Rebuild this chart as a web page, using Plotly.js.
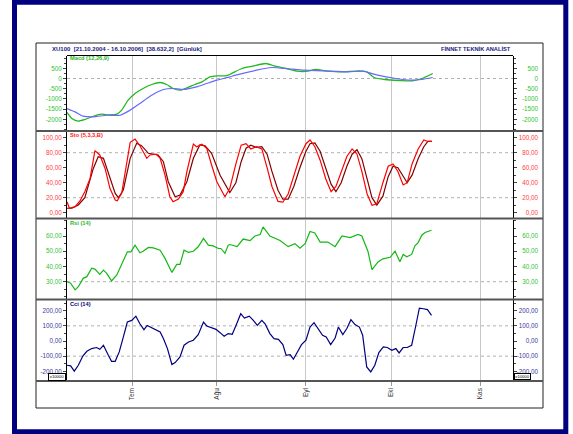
<!DOCTYPE html>
<html>
<head>
<meta charset="utf-8">
<script src="https://cdn.plot.ly/plotly-3.0.1.min.js"></script>
<style>html,body{margin:0;padding:0;background:#fff}#chart{width:573px;height:434px}</style>
</head>
<body>
<div id="chart"></div>
<script>
// ---------- DATA (x = trading-day index from the left edge of the plot) ----------
const monthIdx   = [16.05, 37.0, 58.9, 80.0, 102.0];
const monthNames = ['Tem', 'Ağu', 'Eyl', 'Eki', 'Kas'];

const macdX = [0,1.2,2.8,4.4,6.5,8.6,10.2,12.3,13.5,15.1,16.8,18.8,20.9,23,24.6,26.2,27.9,29.6,31.6,33.3,35.3,37,39,40.2,41.4,43.2,45.9,49.1,51.4,54.1,56.8,59.5,61.3,64,67.7,72.1,74,75.8,78.5,82.1,85.3,87.6,90.3];
const macdY = [-1666,-1960,-2090,-2010,-1850,-1750,-1780,-1750,-1550,-1060,-735,-490,-294,-196,-294,-490,-573,-460,-294,-167,78,127,127,196,326,490,603,734,603,490,359,359,440,375,326,375,326,49,-49,-98,-114,0,245];
const signalX = [0,2,4,6.5,9.8,13.1,15.6,18,20.5,23.8,26.2,28.7,32,34.5,37,40.2,41.4,46.8,50.5,54.1,58.5,63.1,69.5,73.1,76.7,81.2,84.9,87.6,90.3];
const signalY = [-1470,-1637,-1847,-1880,-1800,-1800,-1550,-1225,-867,-539,-490,-539,-412,-245,-83,78,150,408,538,490,408,375,326,359,163,0,-82,-49,49];

const stoKX = [0,0.6,2,3.2,4.4,5.7,6.9,8.1,9.4,10.6,11.9,12.4,13.5,14.7,15.6,16.8,18,19.7,20.5,22,23,24.2,25.4,26.2,27.5,28.7,29.6,31.2,32,33.3,34.5,35.7,37,39,40.2,41.7,43,44.2,45.4,46.7,48.1,49.4,50.6,52.1,53.3,54.6,56,57.5,59,60,61.2,62.5,63.9,65.2,66.4,67.7,69.1,70.4,71.6,72.8,74.1,75.3,76.5,78,79.3,80.5,81.7,83,84,85.2,86.7,88.1,89.1,90.1];
const stoKY = [14.7,5.9,8,15.6,28,45.8,82.7,77,59,32.5,17,16,25.8,63.6,93.8,98.2,89.3,72.5,77,78.2,72.5,50,21.3,14.7,18.2,28,54.7,91.6,88,91.2,85.8,63.6,41.3,21.3,32.5,65,90,92,85,88,85,60,35,15,14,25,50,75,92,97,88,70,45,28,35,55,75,85,78,55,25,10,12,40,62,65,55,37,40,65,85,97,95,95];
const stoDX = [0,1.2,2.8,4.4,6.5,7.7,9,10.6,11.9,12.7,13.9,15.6,17.2,18.4,20.1,22.5,23.8,25,26.7,27.9,29.6,31.2,32.8,34.1,35.7,37.8,39.4,40.2,41.7,43,44.2,45.4,46.7,48.1,49.4,50.6,52.1,53.3,54.6,56,57.5,59,60,61.2,62.5,63.9,65.2,66.4,67.7,69.1,70.4,71.6,72.8,74.1,75.3,76.5,78,79.3,80.5,81.7,83,84,85.2,86.7,88.1,89.1,90.1];
const stoDY = [5.9,5.9,10.3,20,59,74.7,72.5,45.8,25.8,20,30.3,72.5,92.5,89.3,79.2,77,68,41.3,21.3,23.6,41.3,72.5,90.3,89.3,79.2,50,34.7,27,40,68,86,90,87,88,78,55,30,18,18,35,60,82,92,93,82,60,38,28,40,62,78,84,72,45,20,10,22,48,62,60,48,40,50,72,88,95,95];

const rsiX = [0,0.9,2,2.8,4,4.9,6.1,6.9,8.1,9,9.8,11,12.3,13.9,14.9,15.8,16.8,18,18.8,20.1,21.3,23,24.2,25.9,27.1,27.9,28.9,30,31.2,32.4,33.7,34.9,36.1,37.4,38,39,39.8,40.2,42,43.5,45.2,46.4,47.7,48.4,50.1,52.6,54.6,56.3,57.5,58.8,60,61.2,62.5,64.4,66.2,67.9,69.9,71.9,72.8,74.3,75.3,76.8,78,79.8,81,82.2,83,83.9,85.1,85.9,86.7,87.6,88.4,90];
const rsiY = [30,29,24.6,26.7,32.2,33.3,38.8,38.3,34.8,37.6,35.5,30.5,34.4,43.1,49.6,49.6,54,49,50,52.5,52.2,50.7,45.3,36.1,41.4,41.4,50.7,49.2,50,52.9,58.4,54,53.5,51.8,51.8,48.6,54,54.4,53,58,57,60,61,66,60,57,53,55,52,55,63,62,56,56,53,60,59,61,60,50,38,43,45,46,50,43.1,47.9,46.3,47.9,53.5,55.7,60.5,62.3,63.8];

const cciX = [0,0.9,1.8,2.8,3.9,4.9,6.1,7.3,8.1,9,10.2,11,11.9,12.9,13.9,14.9,16,17,18,19,19.8,20.9,22,23,23.8,24.8,25.9,26.7,27.9,28.9,30,31.2,32.4,33.7,34.5,35.7,36.8,37.8,38.8,39.8,40.8,41.9,42.9,43.8,45,46,47,48.1,48.9,50.1,51.1,52.2,53.3,54.1,55.1,55.9,56.9,57.9,59,60,61,62,63.1,64,65.1,66.2,67,68.1,69.1,70.1,71.1,72.2,73,74,75,76,77,78.1,79.1,80.2,81.2,82,83,84,85.1,86.1,87,88,89,90];
const cciY = [-160,-164,-199,-160,-99,-68,-50,-43,-55,-28,-94,-134,-134,-72,26,125,136,164,114,75,103,88,77,59,16,-50,-155,-142,-105,-28,-7,5,42,125,99,88,77,55,31,49,44,114,180,151,164,136,103,136,114,49,16,11,-24,-94,-90,-120,-72,-24,5,92,121,82,38,26,-24,20,92,42,82,141,108,92,38,-171,-204,-160,-76,-39,-43,-61,-50,-79,-43,-43,-28,99,217,213,207,169];

const macdTicks = [500,0,-500,-1000,-1500,-2000];
const macdTickText = ['500','0','-500','-1000','-1500','-2000'];
const stoTicks = [100,80,60,40,20,0];
const stoTickText = ['100,00','80,00','60,00','40,00','20,00','0,00'];
const rsiTicks = [60,50,40,30];
const rsiTickText = ['60,00','50,00','40,00','30,00'];
const cciTicks = [200,100,0,-100,-200];
const cciTickText = ['200,00','100,00','0,00','-100,00','-200,00'];

const macdLevels = [0];
const stoLevels = [20, 80];
const rsiLevels = [30];
const cciLevels = [-100, 100];

// ---------- LAYOUT ----------
const W = 573, H = 434;
const FONT = 'Liberation Sans, Arial, sans-serif';
const px = v => v / W;          // pixel x -> paper
const py = v => 1 - v / H;      // pixel y -> paper
const xDom = [px(67), px(513)];
const xRange = [0, 110.12];

const panels = [
  {key: '',  dom: [py(130), py(55.5)], range: [-2524, 1127], ticks: macdTicks, text: macdTickText, minor: 250, color: '#33c433', levels: macdLevels},
  {key: '2', dom: [py(217.5), py(132)], range: [-6.4, 107.6], ticks: stoTicks, text: stoTickText, minor: 10, color: '#ff4040', levels: stoLevels},
  {key: '3', dom: [py(299), py(219.5)], range: [18.64, 70.83], ticks: rsiTicks, text: rsiTickText, minor: 5, color: '#33c433', levels: rsiLevels},
  {key: '4', dom: [py(380.5), py(300)], range: [-260.7, 270.6], ticks: cciTicks, text: cciTickText, minor: 50, color: '#3a3aa0', levels: cciLevels}
];

const layout = {
  width: W, height: H,
  margin: {l: 0, r: 0, t: 0, b: 0},
  paper_bgcolor: '#fff', plot_bgcolor: '#fff',
  showlegend: false,
  font: {family: FONT, size: 6},
  shapes: [], annotations: []
};

const traces = [
  {x: macdX, y: macdY, xaxis: 'x', yaxis: 'y', mode: 'lines', line: {color: '#1fb81f', width: 1.3, shape: 'spline', smoothing: 0.6}},
  {x: signalX, y: signalY, xaxis: 'x', yaxis: 'y', mode: 'lines', line: {color: '#6868ff', width: 1.2, shape: 'spline', smoothing: 0.6}},
  {x: stoDX, y: stoDY, xaxis: 'x2', yaxis: 'y2', mode: 'lines', line: {color: '#800000', width: 1.2}},
  {x: stoKX, y: stoKY, xaxis: 'x2', yaxis: 'y2', mode: 'lines', line: {color: '#ff0000', width: 1.2}},
  {x: rsiX, y: rsiY, xaxis: 'x3', yaxis: 'y3', mode: 'lines', line: {color: '#14b814', width: 1.2}},
  {x: cciX, y: cciY, xaxis: 'x4', yaxis: 'y4', mode: 'lines', line: {color: '#000080', width: 1.2}}
];
const panelData = [[macdX, macdY], [stoKX, stoKY], [rsiX, rsiY], [cciX, cciY]];

panels.forEach((p, i) => {
  const xk = 'xaxis' + p.key, yk = 'yaxis' + p.key;
  const xid = 'x' + p.key, yid = 'y' + p.key;
  const isLast = i === panels.length - 1;
  layout[xk] = {
    domain: xDom, range: xRange, anchor: yid, fixedrange: true,
    tickmode: 'array', tickvals: monthIdx, ticktext: monthNames,
    showgrid: true, gridcolor: '#c8c8c8', gridwidth: 1,
    zeroline: false, showline: false,
    showticklabels: isLast, ticks: isLast ? 'outside' : '', ticklen: 4, tickcolor: '#999',
    tickangle: -90, tickfont: {family: FONT, size: 6.5, color: '#333'}
  };
  const common = {domain: p.dom, range: p.range, fixedrange: true, zeroline: false, showgrid: false,
                  tickmode: 'array', tickvals: p.ticks, ticktext: p.text};
  layout[yk] = Object.assign({}, common, {
    anchor: xid, side: 'left', showline: true, linecolor: '#000', linewidth: 1,
    ticks: 'outside', ticklen: 3, tickcolor: '#444',
    tickfont: {family: FONT, size: 6.3, color: p.color},
    minor: {dtick: p.minor, tick0: 0, ticks: 'outside', ticklen: 2, tickcolor: '#444', showgrid: false}
  });
  const rId = 5 + i, lId = 9 + i;
  layout['yaxis' + rId] = Object.assign({}, common, {
    anchor: xid, overlaying: yid, side: 'right', showline: true, linecolor: '#000', linewidth: 1,
    ticks: 'outside', ticklen: 3, tickcolor: '#444', showticklabels: false,
    minor: {dtick: p.minor, tick0: 0, ticks: 'outside', ticklen: 2, tickcolor: '#444', showgrid: false}
  });
  layout['yaxis' + lId] = Object.assign({}, common, {
    anchor: 'free', position: px(538), overlaying: yid, side: 'left', showline: false,
    ticks: '', tickfont: {family: FONT, size: 6.3, color: p.color}
  });
  [rId, lId].forEach(id => traces.push({x: panelData[i][0], y: panelData[i][1], xaxis: xid, yaxis: 'y' + id,
    mode: 'lines', line: {width: 0, color: 'rgba(0,0,0,0)'}, hoverinfo: 'skip', showlegend: false}));
  p.levels.forEach(v => layout.shapes.push({type: 'line', xref: xid + ' domain', yref: yid, x0: 0, x1: 1, y0: v, y1: v,
    layer: 'below', line: {color: '#b0b0b0', width: 1, dash: 'dot'}}));
});

layout.shapes.push({type: 'rect', xref: 'paper', yref: 'paper', x0: px(36), x1: px(543), y0: py(408), y1: py(43), line: {color: '#222', width: 1}});
layout.shapes.push({type: 'line', xref: 'paper', yref: 'paper', x0: px(67), x1: px(513), y0: py(55.5), y1: py(55.5), line: {color: '#000', width: 1}});
[131, 218.5, 299.5, 381].forEach(y => layout.shapes.push({type: 'line', xref: 'paper', yref: 'paper', x0: px(36), x1: px(543), y0: py(y), y1: py(y), line: {color: '#555', width: 2}}));
layout.shapes.push({type: 'rect', xref: 'paper', yref: 'paper', x0: px(14.5), x1: px(565.8), y0: py(431.7), y1: py(2.2), line: {color: '#000080', width: 5}});

const ann = (t, x, y, xa, color, size, extra) => Object.assign({text: t, xref: 'paper', yref: 'paper', x: px(x), y: py(y),
  xanchor: xa, yanchor: 'middle', showarrow: false, font: {family: FONT, size: size, color: color}}, extra || {});
const nb = '\u00a0';
layout.annotations.push(ann('<b>XU100' + nb + nb + '[21.10.2004 - 16.10.2006]' + nb + nb + '[38.632,2]' + nb + nb + '[Günlük]</b>', 50, 48.5, 'left', '#1a1a80', 6));
layout.annotations.push(ann('<b>FİNNET TEKNİK ANALİST</b>', 513, 48.5, 'right', '#1a1a80', 5.7));
layout.annotations.push(ann('<b>Macd (12,26,9)</b>', 68, 58.5, 'left', '#1fb81f', 5.7));
layout.annotations.push(ann('<b>Sto (5,3,3,B)</b>', 68, 134.8, 'left', '#ff2020', 5.7));
layout.annotations.push(ann('<b>Rsi (14)</b>', 68, 223, 'left', '#1fb81f', 5.7));
layout.annotations.push(ann('<b>Cci (14)</b>', 68, 303.8, 'left', '#000080', 5.7));
layout.annotations.push(ann('x10000', 47.7, 377, 'left', '#000', 4.2, {bgcolor: '#fff', bordercolor: '#000', borderwidth: 1, borderpad: 0, width: 16, height: 5.6}));
layout.annotations.push(ann('x10000', 514.3, 376.8, 'left', '#000', 4.2, {bgcolor: '#fff', bordercolor: '#000', borderwidth: 1, borderpad: 0, width: 15, height: 5.2}));

Plotly.newPlot('chart', traces, layout, {staticPlot: true, displayModeBar: false});
</script>
</body>
</html>
